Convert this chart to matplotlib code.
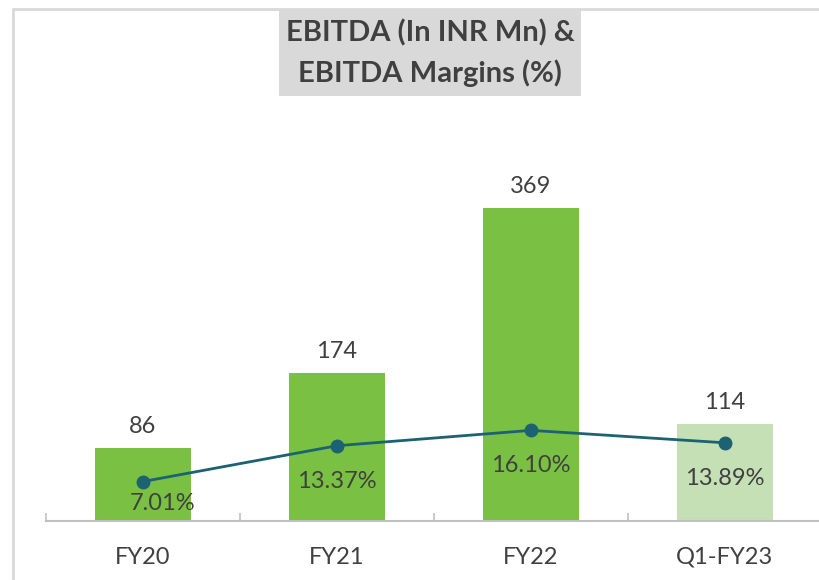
import matplotlib.pyplot as plt
import numpy as np
from matplotlib.patches import Rectangle

categories = ["FY20", "FY21", "FY22", "Q1-FY23"]
ebitda = [86, 174, 369, 114]
margins = [7.01, 13.37, 16.10, 13.89]

bar_colors = ["#7AC143", "#7AC143", "#7AC143", "#C5E0B4"]
line_color = "#1C6272"
text_color = "#404040"
font = ["Lato", "DejaVu Sans"]

fig = plt.figure(figsize=(8.2, 5.8), dpi=100)
W, H = 820, 580

# light grey frame around the chart area
fig.add_artist(Rectangle((13 / W, -0.1), 1.0, (580 - 9) / H + 0.1,
                         transform=fig.transFigure, fill=False,
                         edgecolor="#D9D9D9", linewidth=2))

# axes: x from 46 to 822 px, baseline at 521 px, top at 100 px
ax = fig.add_axes([46 / W, (H - 521) / H, 776 / W, 421 / H])
x = np.arange(len(categories))
ax.bar(x, ebitda, width=0.49, color=bar_colors, zorder=2)
ax.set_xlim(-0.5, len(categories) - 0.5)
ax.set_ylim(0, 421 / 0.848)

for xi, v in zip(x, ebitda):
    ax.annotate(str(v), (xi, v), xytext=(0, 8), textcoords="offset points",
                ha="center", va="bottom", fontsize=17, color=text_color,
                family=font)

for s in ["top", "right", "left"]:
    ax.spines[s].set_visible(False)
ax.spines["bottom"].set_color("#BFBFBF")
ax.spines["bottom"].set_linewidth(1.5)
ax.set_yticks([])
ax.set_xticks(np.arange(-0.5, len(categories), 1.0), minor=False)
ax.tick_params(axis="x", direction="in", length=6, width=1.2,
               colors="#BFBFBF", labelbottom=False)
for xi, c in zip(x, categories):
    ax.text(xi, -36 / 421, c, transform=ax.get_xaxis_transform(), ha="center",
            va="center", fontsize=17, color=text_color, family=font)

ax2 = ax.twinx()
ax2.set_ylim(0, 421 / 5.63)
ax2.plot(x, margins, color=line_color, linewidth=2, marker="o",
         markersize=9, zorder=3)
ax2.axis("off")

label_offsets = [(14, -16), (0, -26), (0, -25), (0, -26)]
for xi, m, (dx, dy) in zip(x, margins, label_offsets):
    ax2.annotate(f"{m:.2f}%", (xi, m), xytext=(dx, dy),
                 textcoords="offset points", ha="center", va="center",
                 fontsize=17, color=text_color, family=font)

# title box
fig.add_artist(Rectangle((279 / W, 1 - 96 / H), 302 / W, 86 / H,
                         transform=fig.transFigure, facecolor="#D9D9D9",
                         edgecolor="none"))
for yy, line in zip([33, 73], ["EBITDA (In INR Mn) &", "EBITDA Margins (%)"]):
    fig.text(430 / W, 1 - yy / H, line, ha="center", va="center",
             fontsize=21, fontweight="bold", color=text_color, family=font)

fig.savefig("out.png", dpi=100)
